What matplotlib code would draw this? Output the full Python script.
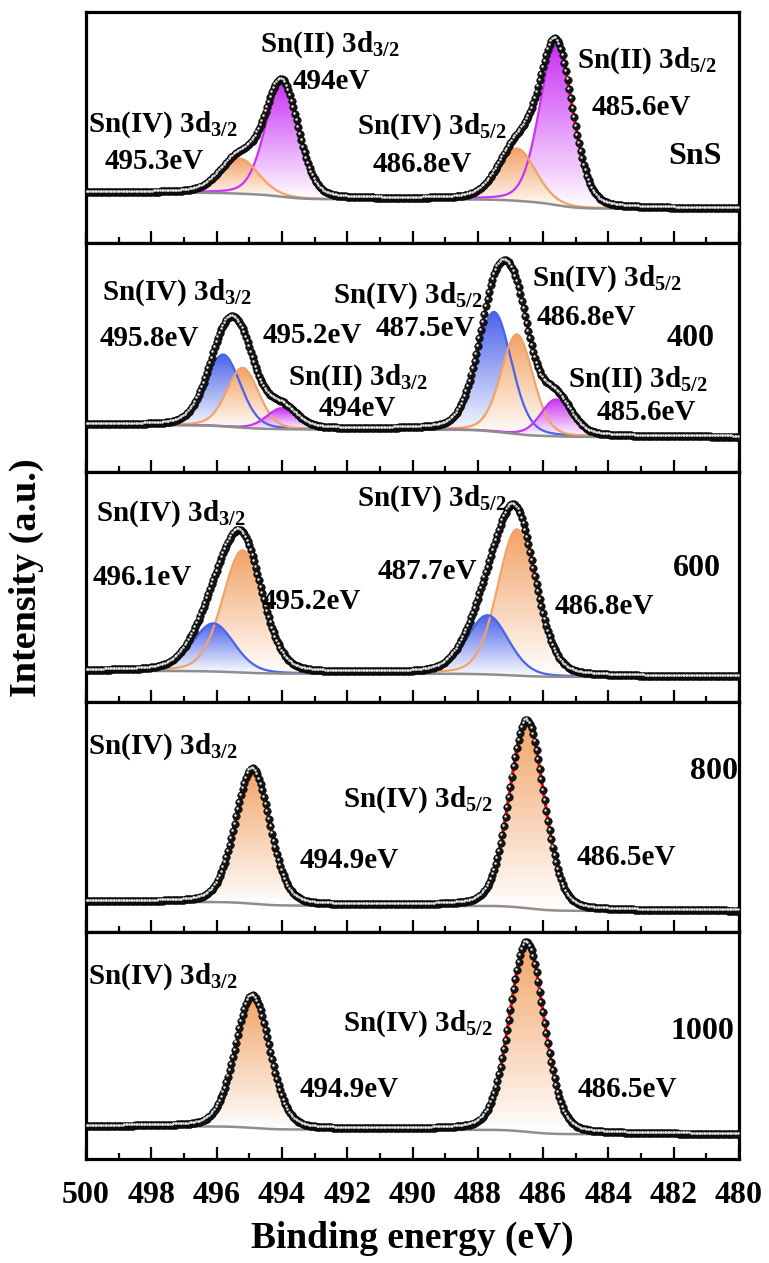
import numpy as np
import matplotlib
matplotlib.use('Agg')
import matplotlib.pyplot as plt
import matplotlib.colors as mcolors
import matplotlib.transforms as mtransforms
from matplotlib.patches import Polygon

plt.rcParams['font.family'] = ['Liberation Serif', 'DejaVu Serif']
plt.rcParams['font.weight'] = 'bold'
plt.rcParams['mathtext.fontset'] = 'custom'
plt.rcParams['mathtext.bf'] = 'Liberation Serif:bold'
plt.rcParams['mathtext.rm'] = 'Liberation Serif:bold'
plt.rcParams['mathtext.default'] = 'bf'

# ---------------------------------------------------------------------------
# data (intensity in arbitrary units, eV for energies)
# ---------------------------------------------------------------------------
e_start, e_stop, e_step = 500.0, 480.0, 0.05

panel_names = ['SnS', '400', '600', '800', '1000']

# Shirley background end levels (high BE side, low BE side)
bg_high = [50, 47, 31, 30, 33]
bg_low = [34, 35, 25, 21, 25]

# fitted components: (centre eV, height, FWHM eV, colour key), in drawing order
peaks_sns = [(494.0, 113, 1.2, 'mag'), (495.3, 35, 1.35, 'org'),
             (485.6, 158, 1.2, 'mag'), (486.8, 52, 1.35, 'org')]
peaks_400 = [(495.8, 72, 1.25, 'blu'), (495.2, 60, 1.15, 'org'), (494.0, 21, 1.1, 'mag'),
             (487.5, 120, 1.25, 'blu'), (486.8, 100, 1.15, 'org'), (485.6, 37, 1.1, 'mag')]
peaks_600 = [(495.2, 122, 1.45, 'org'), (496.1, 48, 1.5, 'blu'),
             (486.8, 146, 1.4, 'org'), (487.7, 59, 1.5, 'blu')]
peaks_800 = [(494.9, 135, 1.25, 'org'), (486.5, 188, 1.25, 'org')]
peaks_1000 = [(494.9, 134, 1.25, 'org'), (486.5, 192, 1.25, 'org')]
all_peaks = [peaks_sns, peaks_400, peaks_600, peaks_800, peaks_1000]

# annotations: (text, left edge in eV, vertical centre in intensity units)
notes_sns = [('Sn(II) 3d$_{3/2}$', 494.67, 197), ('494eV', 493.66, 160),
             ('Sn(IV) 3d$_{3/2}$', 499.94, 118), ('495.3eV', 499.42, 81),
             ('Sn(IV) 3d$_{5/2}$', 491.70, 116), ('486.8eV', 491.21, 78),
             ('Sn(II) 3d$_{5/2}$', 484.96, 181), ('485.6eV', 484.50, 135)]
notes_400 = [('Sn(IV) 3d$_{3/2}$', 499.51, 180), ('495.8eV', 499.57, 134),
             ('495.2eV', 494.58, 137), ('Sn(II) 3d$_{3/2}$', 493.81, 94),
             ('494eV', 492.89, 64), ('Sn(IV) 3d$_{5/2}$', 492.43, 177),
             ('487.5eV', 491.12, 144), ('Sn(IV) 3d$_{5/2}$', 486.34, 194),
             ('486.8eV', 486.19, 155), ('Sn(II) 3d$_{5/2}$', 485.24, 92),
             ('485.6eV', 484.35, 60)]
notes_600 = [('Sn(IV) 3d$_{3/2}$', 499.69, 188), ('496.1eV', 499.79, 124),
             ('495.2eV', 494.61, 100), ('Sn(IV) 3d$_{5/2}$', 491.70, 203),
             ('487.7eV', 491.06, 130), ('486.8eV', 485.64, 95)]
notes_800 = [('Sn(IV) 3d$_{3/2}$', 499.94, 185), ('Sn(IV) 3d$_{5/2}$', 492.13, 132),
             ('494.9eV', 493.45, 71), ('486.5eV', 484.96, 74)]
notes_1000 = [('Sn(IV) 3d$_{3/2}$', 499.94, 184), ('Sn(IV) 3d$_{5/2}$', 492.13, 137),
              ('494.9eV', 493.45, 70), ('486.5eV', 484.93, 70)]
all_notes = [notes_sns, notes_400, notes_600, notes_800, notes_1000]

# panel label position (left edge eV, centre intensity)
name_pos = [(482.17, 86), (482.21, 134), (482.02, 133), (481.50, 160), (482.11, 129)]

colours = {'mag': '#C933F5', 'org': '#F2A367', 'blu': '#4B63EA'}

# ---------------------------------------------------------------------------
W, H = 769, 1263
fig = plt.figure(figsize=(W / 100, H / 100), dpi=100)

x_left, x_right = 86, 739
edges = [12, 243, 472, 702, 932, 1159]
panel_h = 229.4


def pseudo_voigt(x, c, h, w, eta=0.2):
    d = (x - c) / w
    return h * (eta / (1 + 4 * d ** 2) + (1 - eta) * np.exp(-4 * np.log(2) * d ** 2))


def grad_fill(ax, x, lower, upper, colour, z):
    verts = np.column_stack([np.r_[x, x[::-1]], np.r_[upper, lower[::-1]]])
    patch = Polygon(verts, closed=True, facecolor='none', edgecolor='none')
    ax.add_patch(patch)
    rgb = np.array(mcolors.to_rgb(colour))
    t = np.linspace(0, 1, 256)[:, None, None]
    img = (1 - t) * np.ones(3) + t * rgb
    img = np.repeat(img, 2, axis=1)
    im = ax.imshow(img, extent=[x.min(), x.max(), lower.min(), upper.max()],
                   origin='lower', aspect='auto', zorder=z, interpolation='bilinear')
    im.set_clip_path(patch)


energy = np.arange(e_start, e_stop - e_step / 2, -e_step)

axes = []
for i in range(5):
    top, bot = edges[i], edges[i + 1]
    ax = fig.add_axes([x_left / W, 1 - bot / H, (x_right - x_left) / W, (bot - top) / H])
    axes.append(ax)

    comps = [pseudo_voigt(energy, c, h, w) for c, h, w, _ in all_peaks[i]]
    total = np.sum(comps, axis=0)
    # Shirley-like step: cumulative area counted from the low BE end
    cum = np.cumsum(total[::-1])[::-1]
    bg = bg_low[i] + (bg_high[i] - bg_low[i]) * cum / cum[0]

    for k, (c, h, w, key) in enumerate(all_peaks[i]):
        m = np.abs(energy - c) < 3.2 * w
        grad_fill(ax, energy[m], bg[m], bg[m] + comps[k][m], colours[key], 1 + k * 0.1)
    for k, (c, h, w, key) in enumerate(all_peaks[i]):
        m = np.abs(energy - c) < 3.2 * w
        ax.plot(energy[m], bg[m] + comps[k][m], color=colours[key], lw=1.6, zorder=2.5)

    ax.plot(energy, bg, color='#8E8E8E', lw=1.8, zorder=3)
    fit = bg + total
    ax.plot(energy, fit, color='red', lw=2.2, zorder=4)
    ax.plot(energy, fit, ls='none', marker='o', ms=5.4, mfc='#151515', mec='black',
            mew=0.4, zorder=5)
    hl = mtransforms.offset_copy(ax.transData, fig=fig, x=-0.7, y=0.8, units='points')
    ax.plot(energy, fit, ls='none', marker='o', ms=1.8, mfc='#e6e6e6', mec='none',
            transform=hl, zorder=6)

    for txt, ex, yy in all_notes[i]:
        ax.text(ex, yy, txt, fontsize=21, fontweight='bold', ha='left', va='center',
                zorder=7)
    nx, ny = name_pos[i]
    ax.text(nx, ny, panel_names[i], fontsize=23, fontweight='bold', ha='left',
            va='center', zorder=7)

    ax.set_xlim(e_start, e_stop)
    ax.set_ylim(0, panel_h)
    ax.set_yticks([])
    ax.set_xticks(np.arange(480, 501, 2))
    ax.set_xticks(np.arange(480, 501, 1), minor=True)
    ax.tick_params(axis='x', which='major', direction='in', length=8.5, width=1.6,
                   labelsize=23, pad=16)
    ax.tick_params(axis='x', which='minor', direction='in', length=4, width=1.6)
    if i < 4:
        ax.tick_params(axis='x', labelbottom=False)
    for sp in ax.spines.values():
        sp.set_linewidth(2.3)

for lab in axes[-1].get_xticklabels():
    lab.set_fontweight('bold')

fig.text(26 / W, 1 - 578 / H, 'Intensity (a.u.)', rotation=90, fontsize=27.5,
         fontweight='bold', ha='center', va='center')
fig.text(412 / W, 1 - 1238 / H, 'Binding energy (eV)', fontsize=27,
         fontweight='bold', ha='center', va='center')

fig.savefig('out.png', dpi=100)
